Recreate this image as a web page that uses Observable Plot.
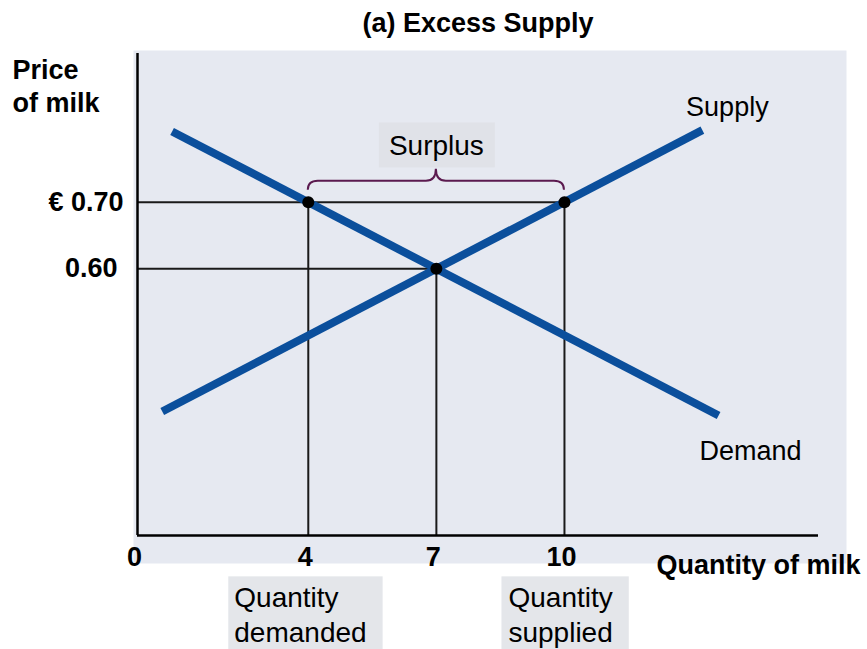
<!DOCTYPE html>
<html>
<head>
<meta charset="utf-8">
<script src="https://cdn.jsdelivr.net/npm/d3@7"></script>
<script src="https://cdn.jsdelivr.net/npm/@observablehq/plot@0.6"></script>
<style>
  html, body { margin: 0; padding: 0; background: #ffffff; }
  #chart svg { display: block; }
</style>
</head>
<body>
<div id="chart"></div>
<script>
// ---- data ----
const quantityTicks = [0, 4, 7, 10];
const priceTicks = [0.70, 0.60];
const priceTickLabels = ["€ 0.70", "0.60"];
const supply = [{q: 0.58, p: 0.386}, {q: 13.23, p: 0.808}];
const demand = [{q: 0.81, p: 0.806}, {q: 13.61, p: 0.380}];
const qDemanded = 4, qEquilibrium = 7, qSupplied = 10;
const surplusPrice = 0.70, equilibriumPrice = 0.60;
const xDomain = [0, 15.95];
const yDomain = [0.2, 0.923];

const points = [
  {q: qDemanded, p: surplusPrice},
  {q: qEquilibrium, p: equilibriumPrice},
  {q: qSupplied, p: surplusPrice}
];
const hGuides = [
  {q: qSupplied, p: surplusPrice},
  {q: qEquilibrium, p: equilibriumPrice}
];

const W = 867, H = 649;
const FONT = "'Liberation Sans', Arial, sans-serif";
const BLUE = "#0b4f9c";

function brace(index, scales) {
  const x = scales.x, y = scales.y;
  const xl = x(qDemanded), xr = x(qSupplied), xm = x((qDemanded + qSupplied) / 2);
  const yb = y(surplusPrice) - 12, yh = yb - 9, yt = yh - 12;
  const r = 10;
  const d = `M${xl},${yb} Q${xl},${yh} ${xl + r},${yh} L${xm - r},${yh} Q${xm},${yh} ${xm},${yt} Q${xm},${yh} ${xm + r},${yh} L${xr - r},${yh} Q${xr},${yh} ${xr},${yb}`;
  const ns = "http://www.w3.org/2000/svg";
  const p = document.createElementNS(ns, "path");
  p.setAttribute("d", d);
  p.setAttribute("fill", "none");
  p.setAttribute("stroke", "#5b1a4f");
  p.setAttribute("stroke-width", "2");
  return p;
}

const chart = Plot.plot({
  width: W,
  height: H,
  marginLeft: 137,
  marginRight: 49,
  marginTop: 53,
  marginBottom: 114,
  x: {domain: xDomain, axis: null},
  y: {domain: yDomain, axis: null},
  style: {fontFamily: FONT, background: "#ffffff", overflow: "visible"},
  marks: [
    Plot.frame({fill: "#e6e9f1", stroke: "none", insetLeft: -4, insetRight: -28, insetTop: -3, insetBottom: -28}),
    // guide lines
    Plot.ruleY(hGuides, {y: "p", x1: 0, x2: "q", stroke: "#1a1a1a", strokeWidth: 2}),
    Plot.ruleX(points, {x: "q", y1: yDomain[0], y2: "p", stroke: "#1a1a1a", strokeWidth: 2}),
    // curves
    Plot.line(supply, {x: "q", y: "p", stroke: BLUE, strokeWidth: 8, strokeLinecap: "butt"}),
    Plot.line(demand, {x: "q", y: "p", stroke: BLUE, strokeWidth: 8, strokeLinecap: "butt"}),
    Plot.dot(points, {x: "q", y: "p", r: 6, fill: "black", stroke: "none"}),
    // axes lines
    Plot.ruleX([0], {stroke: "black", strokeWidth: 2.5}),
    Plot.ruleY([yDomain[0]], {stroke: "black", strokeWidth: 2.5}),
    // brace
    brace,
    // tick labels
    Plot.text(quantityTicks, {x: d => d, text: d => String(d), frameAnchor: "bottom", dy: 30, dx: -3, fontSize: 27, fontWeight: "bold"}),
    Plot.text([0], {x: 0, y: priceTicks[0], text: () => priceTickLabels[0], textAnchor: "end", dx: -14, fontSize: 27, fontWeight: "bold"}),
    Plot.text([0], {x: 0, y: priceTicks[1], text: () => priceTickLabels[1], textAnchor: "end", dx: -20, fontSize: 27, fontWeight: "bold"}),
    // axis titles
    Plot.text(["Price\nof milk"], {text: d => d, frameAnchor: "top-left", textAnchor: "start", lineAnchor: "top", dx: -125, dy: 2, lineHeight: 1.22, fontSize: 27, fontWeight: "bold"}),
    Plot.text(["Quantity of milk"], {text: d => d, frameAnchor: "bottom-right", textAnchor: "end", dx: 42, dy: 38, fontSize: 27, fontWeight: "bold"}),
    Plot.text(["(a) Excess Supply"], {text: d => d, frameAnchor: "top", dy: -41, fontSize: 27, fontWeight: "bold"}),
    // curve labels
    Plot.text([supply[1]], {x: "q", y: "p", text: () => "Supply", dx: 25, dy: -23, fontSize: 27}),
    Plot.text([demand[1]], {x: "q", y: "p", text: () => "Demand", dx: 32, dy: 36, fontSize: 27}),
    // annotations
    Plot.text(["Surplus"], {x: (qDemanded + qSupplied) / 2, text: d => d, frameAnchor: "top", dy: 82, fontSize: 28}),
    Plot.text(["Quantity\ndemanded"], {x: qDemanded, text: d => d, frameAnchor: "bottom", textAnchor: "start", lineAnchor: "top", dx: -74, dy: 47, lineHeight: 1.25, fontSize: 28}),
    Plot.text(["Quantity\nsupplied"], {x: qSupplied, text: d => d, frameAnchor: "bottom", textAnchor: "start", lineAnchor: "top", dx: -56, dy: 47, lineHeight: 1.25, fontSize: 28})
  ]
});

document.getElementById("chart").append(chart);

// label background boxes, sized from the rendered text
function addBox(content, pad, fill, toBottom) {
  const ns = "http://www.w3.org/2000/svg";
  const svgRect = chart.getBoundingClientRect();
  Array.from(chart.querySelectorAll("text"))
    .filter(t => t.textContent === content)
    .forEach(t => {
      const b = t.getBoundingClientRect();
      const x0 = b.left - svgRect.left - pad.l;
      const x1 = b.right - svgRect.left + pad.r;
      const y0 = b.top - svgRect.top - pad.t;
      const y1 = toBottom ? H : b.bottom - svgRect.top + pad.b;
      const r = document.createElementNS(ns, "rect");
      r.setAttribute("x", x0);
      r.setAttribute("y", y0);
      r.setAttribute("width", x1 - x0);
      r.setAttribute("height", y1 - y0);
      r.setAttribute("fill", fill);
      const g = t.parentNode;
      g.parentNode.insertBefore(r, g);
    });
}
addBox("Surplus", {l: 10, r: 11, t: 8, b: 6}, "#e0e2e8", false);
addBox("Quantitydemanded", {l: 6, r: 16, t: 6, b: 0}, "#e4e6ea", true);
addBox("Quantitysupplied", {l: 7, r: 16, t: 6, b: 0}, "#e4e6ea", true);
</script>
</body>
</html>
